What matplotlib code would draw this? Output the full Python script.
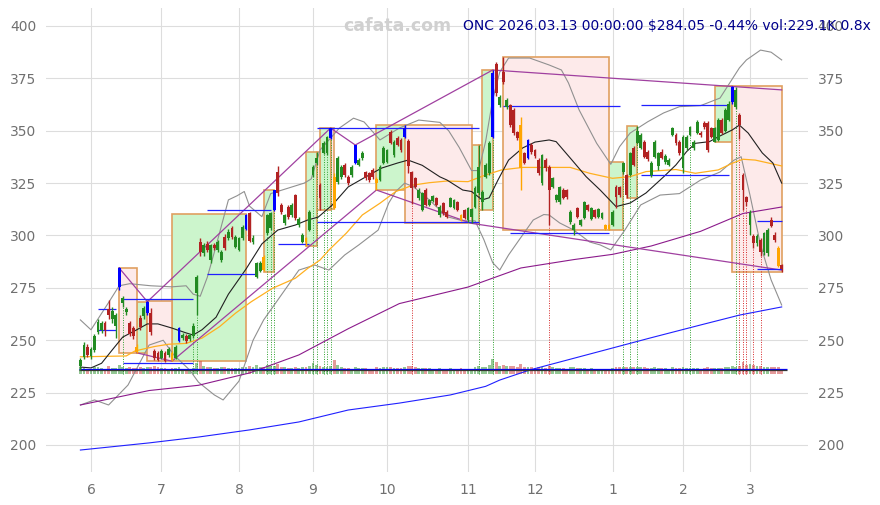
import matplotlib
matplotlib.use("Agg")
import matplotlib.pyplot as plt
from matplotlib.patches import Rectangle
import numpy as np
import pandas as pd

# handelsdage 28.05.2025 - 13.03.2026 (NYSE helligdage fjernet)
holidays = ["2025-06-19", "2025-07-04", "2025-09-01", "2025-11-27", "2025-12-25",
            "2026-01-01", "2026-01-19", "2026-02-16"]
dates = pd.bdate_range("2025-05-28", "2026-03-13", freq="C", holidays=holidays)

opens = [237.5, 242, 247, 242.5, 245.5, 254, 255, 258, 265, 260,
         257, 275.5, 268, 263.5, 258, 256, 247, 260.5, 261.5, 263,
         263, 245, 244, 241.5, 244, 243, 244, 241.5, 249.5, 251,
         252, 250.5, 252, 272.5, 297, 291.5, 296, 288.5, 295.5, 293,
         288.5, 299.4, 298.6, 303.4, 294.7, 293.1, 298.6, 303, 310.6, 297,
         280.4, 283, 289.9, 301, 303.4, 312.2, 330.5, 314.6, 305.8, 313.8,
         309.8, 319.3, 305, 297, 298.6, 302.6, 328.9, 334.5, 324, 339.4,
         339.4, 346.5, 328, 325.5, 328, 333.7, 328, 329, 334.6, 333.7,
         337, 330.3, 329.8, 331.3, 327, 326.5, 334.6, 335, 349.4, 338.4,
         346.5, 345.6, 347, 345, 330.3, 327.4, 317.9, 312.2, 321.7, 314.6,
         316.5, 317.9, 309.8, 315.5, 311.4, 313.8, 313, 316, 309.8, 312,
         307.4, 309, 313.6, 320.3, 316, 328, 329.8, 347, 382, 362.3,
         378, 361.3, 362.3, 360, 349.4, 352.7, 339.4, 337, 343.2, 341,
         336, 325, 336, 332.7, 323.2, 317, 316, 321.7, 321.5, 306.4,
         302.6, 313, 305, 308.4, 314.6, 308, 312.2, 309, 308.4, 305,
         305, 305, 323.2, 323, 330.3, 329, 328.9, 341.8, 344, 342,
         344.6, 340, 328.9, 337.5, 333, 340, 335, 333.7, 348, 348,
         344.6, 332.2, 341.8, 348, 341.6, 348.9, 349, 353.7, 353.7, 351.3,
         344.6, 345.6, 355, 350, 355, 363.7, 361.3, 357.5, 328.9, 318.4,
         305, 299.8, 296.4, 297.9, 292, 291.6, 307.4, 300.2, 294, 286]
closes = [240.5, 247.5, 243, 246, 252, 258.5, 258, 255, 262, 264,
          262, 284.5, 270, 265, 253, 252, 244.5, 256.5, 265.5, 268.4,
          254, 241.5, 240.5, 245, 240, 246, 240.5, 246.8, 256, 252.5,
          249.5, 252.5, 257, 280, 292, 295.5, 293, 295.5, 294, 297,
          292.3, 294, 301.8, 299.4, 299.4, 298.6, 304.2, 310, 297.5, 299,
          286.7, 287, 283.5, 309.8, 310.6, 321.7, 320.1, 311.4, 309.8, 309,
          314.6, 308.2, 308, 300.2, 297, 311.4, 332.8, 337, 318, 344.2,
          347, 351.3, 313, 337, 332.7, 328.9, 325, 332.7, 343.2, 336,
          339.4, 327.4, 326.5, 328, 325, 332.7, 341.8, 340.8, 344.2, 344.6,
          343.2, 340.8, 351.3, 333, 322.7, 323.2, 321.7, 320.3, 314.6, 317,
          318.8, 314.6, 313.8, 310.7, 309, 318, 317, 312, 307.4, 308.5,
          313, 312.5, 322.7, 332.7, 320.8, 333.7, 344.2, 377.6, 368, 366,
          373.4, 364.7, 352.7, 349, 346.5, 332.2, 334.6, 345.6, 339.9, 338,
          329.8, 338.4, 332, 321.7, 327.4, 319.3, 323, 318, 318.4, 311.2,
          305, 309, 307.4, 316, 312.2, 313, 308.8, 312.5, 310.7, 303,
          303, 311.2, 318.4, 319.3, 334.6, 319.3, 339.4, 333.7, 350, 348,
          337.5, 336.5, 334.6, 344.6, 339.4, 337, 338, 336, 351.3, 344,
          339.4, 347, 347, 351.8, 344.8, 354.2, 348, 351.8, 340.8, 347,
          351.3, 355.1, 349, 360, 363, 370.9, 369.5, 352.7, 321.7, 316,
          310.7, 296.4, 299.8, 292.1, 301, 302.6, 304.5, 297.9, 285.3, 284.05]
highs = [241.5, 249, 248, 247, 253, 260, 259, 259, 269, 266,
         263, 285, 271, 266, 259, 257, 248, 262, 266.5, 268.5,
         265.5, 246, 245, 246, 245, 247, 245, 247.5, 256.5, 253.5,
         253, 253, 258, 281, 299, 296.5, 297.5, 296, 296.5, 298,
         293, 300.5, 303, 304.5, 300, 299.5, 305, 310.3, 311, 300,
         287.5, 288, 290.5, 310.5, 311, 321.8, 333, 315.5, 310.5, 314.5,
         315.5, 320, 309, 301, 299.5, 312, 333.5, 340, 325, 345,
         347.5, 351.4, 330, 338, 333.5, 334.5, 329, 333.5, 343.3, 337,
         340.5, 331, 330.5, 332, 328, 333.5, 342.5, 341.5, 350.5, 345.5,
         347.5, 346.5, 352.7, 346, 331, 328, 322.5, 321, 322.5, 317.5,
         319.5, 318.5, 314.5, 316, 312, 318.5, 317.5, 316.5, 310.5, 312.5,
         313.5, 313, 323.5, 343.2, 321.5, 334.5, 345, 379, 383, 367,
         385.3, 365.5, 363, 361, 350, 356.6, 340, 346, 344, 341.5,
         337, 339, 337, 333.5, 328, 320, 323.5, 322.5, 322, 312,
         306, 313.5, 308, 316.5, 315, 313.5, 312.5, 313, 311, 305.5,
         305.5, 312, 324, 323.5, 335.2, 329.5, 340, 342.5, 352.3, 349,
         345.5, 341, 335.5, 345.5, 340, 341.5, 339, 337, 352, 349,
         345.5, 348, 348, 352.5, 345.5, 355, 350, 354.5, 354.5, 352,
         352, 356, 356, 361, 364, 371.4, 371, 358.5, 330, 319,
         312, 300.5, 300.5, 299, 301.5, 303.5, 309, 301.5, 295, 286.5]
lows = [236, 241, 242, 241, 244.5, 253, 253.5, 252, 260, 258,
        251, 274, 266, 262, 252, 250.5, 244, 255, 260, 262,
        252.5, 240.5, 240, 241, 239.5, 242, 240, 241, 249, 250,
        248.5, 249.5, 251, 262, 290, 290, 292, 287, 293, 292,
        287.5, 293, 298, 298.5, 294, 292.5, 298, 302.5, 297, 296,
        279.5, 282.5, 283, 300, 302.5, 311.5, 319, 310.5, 305, 308,
        309, 307.5, 304, 296.5, 295, 302, 328, 333.5, 312, 339,
        338.5, 346, 312.5, 324.5, 327, 328, 324, 328, 334, 333,
        336, 326.5, 325.5, 327, 321.7, 326, 334, 334.5, 343.5, 337.5,
        342.5, 340, 346.5, 330, 315, 322.5, 317, 311.5, 314, 314,
        316, 314, 309, 310, 308.5, 313.5, 312.5, 311.5, 307, 308,
        306.5, 305.8, 313, 319.5, 312.2, 327.5, 329, 346.5, 366.5, 361.5,
        372.5, 360.5, 352, 348, 345.5, 321.7, 334, 336.5, 339, 337,
        329, 324, 331, 305, 322.5, 316, 315, 317.5, 317.5, 305.5,
        300.2, 308.5, 304.5, 308, 311.5, 307.5, 308.3, 308.5, 308, 302.6,
        302.6, 304.5, 313, 318.5, 329.5, 317.7, 328.5, 333, 343.5, 341.5,
        337, 335.5, 328, 337, 331.3, 336.5, 334, 333, 347.5, 343,
        338.5, 330, 341, 347.5, 341, 348.5, 347, 351, 340, 346.5,
        344.6, 345, 348.5, 349.5, 354.5, 363, 360.5, 346, 312, 314,
        300, 294, 295, 290, 290.5, 290, 304, 297, 285, 282.7]
volumes = [310, 280, 250, 240, 300, 320, 260, 240, 350, 280,
           260, 420, 300, 260, 300, 280, 290, 310, 270, 300,
           330, 350, 300, 260, 270, 250, 280, 260, 330, 240,
           230, 220, 260, 520, 600, 380, 300, 320, 260, 280,
           300, 310, 290, 270, 260, 280, 300, 340, 380, 300,
           420, 330, 340, 400, 360, 380, 450, 330, 300, 290,
           280, 320, 270, 300, 310, 360, 520, 410, 360, 340,
           330, 360, 650, 400, 300, 280, 260, 250, 330, 270,
           260, 280, 250, 240, 300, 270, 320, 300, 340, 280,
           270, 260, 330, 360, 380, 300, 280, 270, 290, 260,
           250, 240, 260, 250, 230, 270, 250, 240, 260, 250,
           240, 250, 300, 380, 320, 340, 400, 700, 560, 380,
           420, 350, 380, 360, 320, 460, 330, 320, 300, 280,
           300, 320, 290, 380, 300, 280, 270, 260, 250, 300,
           310, 280, 260, 270, 250, 260, 240, 230, 220, 240,
           230, 260, 330, 300, 340, 320, 330, 300, 340, 310,
           300, 280, 270, 300, 280, 270, 260, 250, 310, 290,
           280, 300, 270, 280, 260, 290, 250, 260, 320, 280,
           270, 290, 280, 300, 310, 380, 340, 360, 560, 420,
           460, 400, 350, 380, 330, 340, 320, 300, 330, 229.1]

blue_idx = [11, 19, 28, 47, 55, 71, 78, 92, 117, 127, 185]
orange_idx = [16, 26, 52, 64, 72, 84, 108, 125, 149, 150, 198]

# glidende gennemsnit og bollinger (aflæst: dag-indeks, kurs)
sma_black = [(0, 237.2), (3, 236.8), (6, 239), (9, 245.3), (12, 251.5), (16, 255), (19, 257.8),
             (22, 257.8), (26, 255.8), (30, 253.5), (32, 252.5), (34.5, 255), (38.5, 261), (42, 272),
             (47, 284), (51.5, 296), (56, 302.6), (61, 305), (64.5, 307.4), (67.5, 308.8), (71.5, 314.6),
             (76, 323.2), (81, 328), (85.5, 332.2), (90, 334.6), (93, 336), (97, 333.5), (102, 328),
             (104, 326.5), (108.5, 321.7), (111, 321), (114, 317), (116, 318), (118.5, 326.5),
             (121.5, 336), (125.5, 341.8), (129, 344.6), (133, 345.6), (135, 344.8), (139.5, 336),
             (143.5, 328.1), (147.5, 321.7), (152, 313.8), (156, 315.5), (160.5, 320.3), (165.5, 328),
             (169, 333.7), (172, 340), (174.5, 344), (178.5, 344.8), (181, 347.1), (185, 350.4),
             (187, 352.7), (189.5, 348.9), (193.5, 339.4), (196.5, 334.6), (199, 325)]
sma_orange = [(0, 242.1), (13, 242.5), (15.5, 244.9), (21, 247), (25, 248.1), (30, 248.5), (34.5, 251),
              (39.5, 256.5), (44, 262.9), (48.5, 268.4), (54.5, 274.8), (61, 279.6), (64.5, 284.3),
              (68, 288.3), (70.5, 293), (75.5, 301.2), (80, 309.8), (85, 315.4), (89.5, 321),
              (94.5, 324.1), (99, 325.2), (104, 326), (110, 325.7), (115, 328.9), (119.5, 331.3),
              (125.5, 332.5), (133, 332.5), (139, 332.5), (144.5, 329.7), (151, 327.3), (156, 328.1),
              (160.5, 330.5), (169, 331.5), (174.5, 329.7), (181, 331.3), (185, 334.5), (188, 336.4),
              (191.5, 336), (199, 333.2)]
sma_purple = [(0, 219.1), (19.5, 226), (33.5, 228.5), (48, 234.4), (62, 243), (76, 255.5), (90.5, 267.5),
              (110, 275.4), (125, 284.5), (140, 288.5), (151, 291), (162, 295), (176, 302),
              (188, 310.5), (199, 313.6)]
sma_blue = [(0, 197.6), (19.5, 201), (33.5, 203.8), (48, 207.2), (62, 211), (76, 216.7), (90.5, 220),
            (105, 223.9), (115, 228), (119, 231), (127.5, 235.8), (136, 239.6), (151, 246.3),
            (161.5, 251), (176, 257.3), (187, 262), (199, 265.9)]
bb_upper = [(0, 259.7), (3, 255), (8, 268), (11, 276), (14, 277), (20, 276), (26, 275.5), (30, 276),
            (32, 272), (34, 271), (36, 280), (38, 292), (42, 317), (44.5, 319), (46.5, 321), (48, 314),
            (51.5, 309), (54, 320), (63.5, 325), (65.5, 327), (68, 340.8), (73.5, 351.3), (77.5, 356),
            (80.5, 354.2), (85, 345.6), (90.5, 351.3), (96, 355.1), (102, 354), (104.5, 350),
            (107.5, 342), (111, 331), (113, 331), (115, 345), (117, 365), (119, 378), (121.5, 384.7),
            (127.5, 384.7), (133, 381.4), (136.5, 379), (138.5, 372.8), (141.5, 360), (146.5, 344),
            (150.5, 334), (153, 342.4), (156, 348.9), (161, 354.3), (165.5, 358.5), (170, 361.5),
            (176, 362), (181.5, 365.6), (187, 380), (189, 383.8), (193, 388.5), (196, 387.5), (199, 383.8)]
bb_lower = [(0, 219.1), (4, 221.5), (8, 219.1), (13.5, 228.6), (19.5, 247.7), (23.5, 250), (26.5, 243),
            (31, 235.8), (33.5, 230), (38, 223.9), (40.5, 221.5), (45, 230.5), (49, 250), (52, 259.7),
            (56, 269.2), (62, 283.5), (66.5, 285.9), (70.5, 283.5), (75, 290.7), (79, 295.5),
            (84.5, 302.6), (87.5, 315.5), (89.5, 321), (92, 325), (94.5, 323.3), (99, 317), (104, 309),
            (108.5, 307), (112, 307), (114.5, 298), (117, 287), (119, 283.5), (121.5, 290.7),
            (124.5, 297.9), (128.5, 307.4), (131.5, 310), (133, 309.8), (136, 306), (140, 302.6),
            (144.5, 296.9), (147.5, 295.5), (150.5, 293.1), (154.5, 302.6), (159, 314.6),
            (164.5, 319.3), (170, 320), (176, 326.5), (181.5, 330.3), (185.5, 336), (187.5, 337.6),
            (190, 319.3), (193, 295.5), (196, 278.8), (199, 266.8)]

# trendlinjer (zigzag mellem blå toppe og orange bunde)
trend_top = [(11, 284.5), (19, 268.4), (71, 351.3), (78, 343.2), (117, 379), (199, 369.5)]
trend_bottom = [(16, 244), (26, 240), (84, 321.7), (111, 305.8), (199, 283.5)]

# kasser: (fra dag, til dag, lav, høj)
green_boxes = [(16, 19, 244, 268.4), (26, 47, 240, 310.3), (52, 55, 282.7, 321.8), (64, 67, 295, 340),
               (68, 71, 312, 351.3), (84, 92, 321.7, 352.7), (111, 113, 305.8, 343.2),
               (114, 117, 312.2, 379), (150, 154, 302.6, 335.2), (155, 158, 317.7, 352.3),
               (180, 185, 344.6, 371.4)]
pink_boxes = [(11, 16, 244, 284.3), (19, 26, 240, 268.7), (67, 68, 312, 340), (71, 72, 312.5, 351.3),
              (92, 111, 305.8, 352.7), (113, 114, 312.2, 343.2), (120, 150, 302.6, 385.3),
              (185, 199, 282.7, 371.4)]

# vandrette niveauer: (fra dag, til dag, kurs)
levels = [(5, 10, 264.8), (5, 10, 254.9), (12, 32, 269.5), (12, 32, 239), (36, 54, 312.2),
          (36, 50, 281.6), (56, 65, 295.8), (67, 113, 351.3), (67, 113, 306.6), (120, 153, 361.8),
          (122, 150, 301), (159, 184, 362.3), (159, 184, 328.9), (192, 199, 306.8), (192, 199, 283.9)]

green_dots = [12, 32, 33, 53, 54, 55, 66, 67, 69, 70, 71, 113, 117, 154, 156, 158, 173, 186]
red_dots = [94, 133, 187, 188, 189, 191, 193]

# pixel-opsætning ud fra billedet
L, R, T, B = 46, 808, 8, 472
px0, pxd = 80.4, 3.524
def py(y):
    return 200 + (445 - y) / 2.095

fig = plt.figure(figsize=(8.8, 5.05), dpi=100)
ax = fig.add_axes([L / 880, (505 - B) / 505, (R - L) / 880, (B - T) / 505])
ax.set_xlim((L - px0) / pxd, (R - px0) / pxd)
ax.set_ylim(py(B), py(T))

o = np.array(opens); c = np.array(closes); h = np.array(highs); lo = np.array(lows)
x = np.arange(len(dates))

up_col, dn_col = "#228b22", "#b22222"
cols = np.where(c >= o, up_col, dn_col).astype(object)
for i in blue_idx:
    cols[i] = "#0000ff"
for i in orange_idx:
    cols[i] = "#ffa500"

# kasser
for a, b, l, hh in green_boxes:
    ax.add_patch(Rectangle((a, l), b - a, hh - l, facecolor="#ccf5cc", edgecolor="#e0a060", lw=1.2, zorder=1))
for a, b, l, hh in pink_boxes:
    ax.add_patch(Rectangle((a, l), b - a, hh - l, facecolor="#fdeaea", edgecolor="#e0a060", lw=1.2, zorder=1))

# volumen i bunden
vol = np.array(volumes)
vbase = 234.0
vcol = np.where(c >= o, "#3a9a3a", "#d04848")
ax.bar(x, vol / 300 * 3.0, bottom=vbase, width=0.8, color=vcol, alpha=0.55, zorder=2)
ax.hlines(236.3, -0.5, 200.5, color="#0000ff", lw=0.9, zorder=2.5)
ax.hlines(235.7, -0.5, 200.5, color="#333333", lw=0.9, zorder=2.5)

# stiplede lodrette linjer
for i in green_dots:
    ax.vlines(i, vbase, lo[i], colors="#2ca02c", lw=0.7, linestyles=(0, (1, 1.5)), zorder=2)
for i in red_dots:
    ax.vlines(i, vbase, lo[i], colors="#d62728", lw=0.7, linestyles=(0, (1, 1.5)), zorder=2)

def line(pts, **kw):
    p = np.array(pts)
    ax.plot(p[:, 0], p[:, 1], **kw)

line(bb_upper, color="#909090", lw=0.8, zorder=2)
line(bb_lower, color="#909090", lw=0.8, zorder=2)
line(sma_blue, color="#2020ff", lw=0.8, zorder=2)
line(sma_purple, color="#8b1a8b", lw=0.8, zorder=2)
line(sma_orange, color="#ffb020", lw=0.9, zorder=2)
line(sma_black, color="#202020", lw=0.8, zorder=2)
line(trend_top, color="#a040a0", lw=0.9, zorder=2)
line(trend_bottom, color="#a040a0", lw=0.9, zorder=2)

for a, b, v in levels:
    ax.hlines(v, a, b, color="#2020ff", lw=0.9, zorder=2)

# lys
ax.vlines(x, lo, h, colors=list(cols), lw=1.0, zorder=3)
body = np.maximum(np.abs(c - o), 0.5)
ax.bar(x, body, bottom=np.minimum(o, c), width=0.8, color=list(cols), zorder=3)

# akser
months = dates.month
tick_pos = [i for i in range(1, len(dates)) if months[i] != months[i - 1]]
ax.set_xticks(tick_pos)
ax.set_xticklabels([str(months[i]) for i in tick_pos])
ax.set_yticks(np.arange(200, 401, 25))
ax.tick_params(axis="both", length=0, labelsize=10, labelcolor="#707070")
ax.tick_params(axis="y", labelright=True, pad=7)
ax.tick_params(axis="x", pad=8)
ax.grid(True, color="#dddddd", lw=0.8, zorder=0)
ax.set_axisbelow(True)
for s in ax.spines.values():
    s.set_visible(False)

fig.text(397 / 880, 1 - 26 / 505, "cafata.com", ha="center", va="center", fontsize=12.5,
         fontweight="bold", color="#d0d0d0")
fig.text(871 / 880, 1 - 26 / 505, "ONC 2026.03.13 00:00:00 $284.05 -0.44% vol:229.1K 0.8x",
         ha="right", va="center", fontsize=10, color="#00008b")

fig.savefig("out.png", dpi=100)
